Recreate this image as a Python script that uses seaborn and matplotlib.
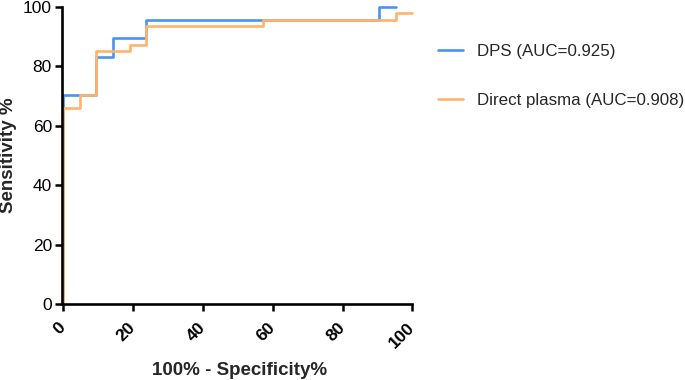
import pandas as pd
import matplotlib
matplotlib.use("Agg")
import matplotlib.pyplot as plt
import seaborn as sns

# ROC corner points (100% - specificity, sensitivity)
dps_fpr = [0, 0, 9.52, 14.29, 23.81, 90.48, 95.24]
dps_tpr = [0, 70.2, 83.0, 89.4, 95.7, 100, 100]
plasma_fpr = [0, 0, 4.76, 9.52, 19.05, 23.81, 57.14, 95.24, 100]
plasma_tpr = [0, 66.0, 70.2, 85.1, 87.2, 93.6, 95.7, 97.9, 97.9]
labels = ["DPS (AUC=0.925)", "Direct plasma (AUC=0.908)"]
colors = ["#4a94ee", "#ffb36b"]
x_ticks = [0, 20, 40, 60, 80, 100]
y_ticks = [0, 20, 40, 60, 80, 100]

df = pd.concat([
    pd.DataFrame({"fpr": dps_fpr, "tpr": dps_tpr, "curve": labels[0]}),
    pd.DataFrame({"fpr": plasma_fpr, "tpr": plasma_tpr, "curve": labels[1]}),
], ignore_index=True)

sns.set_style("ticks")
plt.rcParams["font.family"] = ["Liberation Sans", "DejaVu Sans"]

fig = plt.figure(figsize=(6.85, 3.8), dpi=100)
ax = fig.add_axes([0.092, 0.2, 0.51, 0.782])

sns.lineplot(data=df, x="fpr", y="tpr", hue="curve", palette=colors,
             sort=False, estimator=None, drawstyle="steps-post",
             linewidth=1.9, ax=ax, clip_on=False)

ax.set_xlim(0, 100)
ax.set_ylim(0, 100)
ax.set_xticks(x_ticks)
ax.set_yticks(y_ticks)
ax.tick_params(axis="both", direction="out", length=5, width=1.8, color="black",
               labelsize=12.5, labelcolor="black")
ax.tick_params(axis="x", pad=10)
ax.tick_params(axis="y", pad=2)
plt.setp(ax.get_xticklabels() + ax.get_yticklabels(), fontweight="bold")
plt.setp(ax.get_xticklabels(), rotation=45, ha="right", va="center",
         rotation_mode="anchor")
sns.despine(ax=ax)
for side in ["left", "bottom"]:
    ax.spines[side].set_linewidth(1.9)
    ax.spines[side].set_color("black")
ax.spines["left"].set_position(("outward", 1))

ax.set_xlabel("100% - Specificity%", fontweight="bold", fontsize=13.5)
ax.xaxis.set_label_coords(0.505, -0.195)
ax.set_ylabel("Sensitivity %", fontweight="bold", fontsize=13.5, labelpad=4)

handles, labs = ax.get_legend_handles_labels()
ax.legend(handles, labs, loc="upper left", bbox_to_anchor=(0.617, 0.925),
          bbox_transform=fig.transFigure, frameon=False, fontsize=12.2,
          handlelength=1.5, labelspacing=2.0, handletextpad=0.8)

fig.savefig("out.png", dpi=100)
